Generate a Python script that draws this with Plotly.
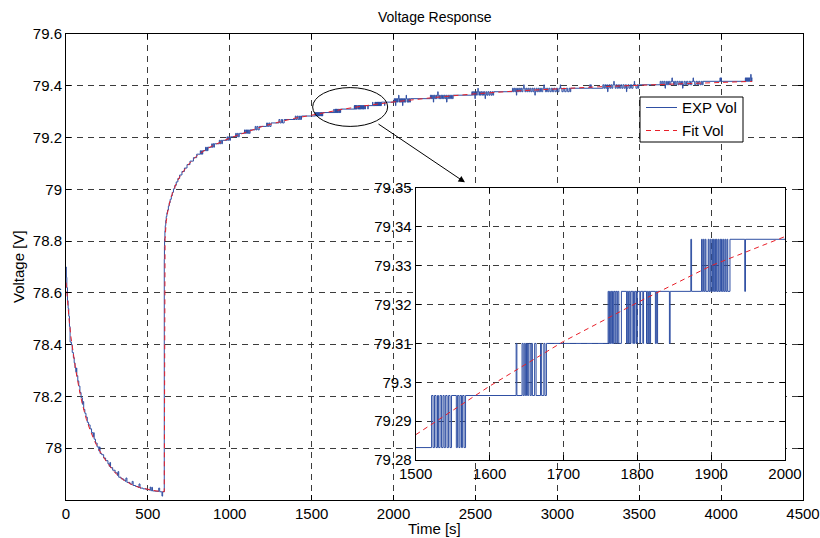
import plotly.graph_objects as go

# ---------------- data ----------------
# quantised measurement levels used in the inset / late part
A, B, C, D, E = 79.2832, 79.2966, 79.3100, 79.3234, 79.3368
F, G, H, I, J, K, L, M = 79.3502, 79.3636, 79.3770, 79.3904, 79.4038, 79.4172, 79.4306, 79.4440

# discharge part (0 - 600 s)
decay_t = [0, 2, 5, 9, 13, 17, 21, 25, 33, 38, 45, 50, 55, 60, 63, 66, 72, 78, 85, 92,
           100, 104, 108, 115, 122, 130, 138, 147, 156, 165, 169, 172, 180, 190, 200,
           204, 208, 218, 230, 242, 256, 264, 268, 272, 285, 300, 314, 318, 322, 336,
           350, 362, 366, 372, 390, 400, 404, 410, 425, 440, 446, 452, 470, 490, 510,
           514, 518, 524, 528, 545, 562, 566, 572, 583, 586, 590]
decay_v = [78.70, 78.66, 78.62, 78.57, 78.54, 78.51, 78.47, 78.41, 78.40, 78.37, 78.35,
           78.33, 78.31, 78.295, 78.31, 78.28, 78.26, 78.24, 78.215, 78.195,
           78.17, 78.18, 78.15, 78.135, 78.12, 78.10, 78.09, 78.075, 78.06, 78.045,
           78.06, 78.035, 78.02, 78.005, 77.99, 78.005, 77.98, 77.975, 77.962, 77.952,
           77.94, 77.93, 77.945, 77.925, 77.915, 77.905, 77.895, 77.91, 77.888, 77.882,
           77.877, 77.872, 77.885, 77.868, 77.862, 77.86, 77.872, 77.856, 77.852, 77.849,
           77.862, 77.846, 77.843, 77.84, 77.838, 77.85, 77.836, 77.849, 77.835, 77.834,
           77.833, 77.846, 77.832, 77.832, 77.815, 77.832]

# recovery part (600 - 1500 s)
rise_t = [600, 601, 602, 604, 606, 609, 612, 616, 620, 625, 630, 636, 643, 649, 656, 664,
          673, 683, 694, 708, 723, 739, 757, 778, 798,
          820, 823, 828, 832, 835, 852, 855, 859, 864, 867,
          890, 893, 898, 903, 906, 936, 940, 945, 951, 955,
          983, 987, 993, 999, 1004, 1036, 1040, 1046, 1052, 1058,
          1090, 1095, 1102, 1108, 1115, 1119, 1124,
          1155, 1160, 1166, 1172, 1180, 1225, 1230, 1238, 1244, 1252,
          1300, 1306, 1315, 1322, 1332, 1400, 1405, 1412, 1418, 1426, 1431, 1438]
rise_v = [78.73, 78.78, 78.81, 78.84, 78.86, 78.88, 78.895, 78.91, 78.92, 78.935, 78.948,
          78.9616, 78.975, 78.9884, 79.0018, 79.0152, 79.0286, 79.0420, 79.0554, 79.0688,
          79.0822, 79.0956, 79.1090, 79.1224, 79.1358,
          79.1492, 79.1358, 79.1492, 79.1358, 79.1492, 79.1626, 79.1492, 79.1626, 79.1492, 79.1626,
          79.1760, 79.1626, 79.1760, 79.1626, 79.1760, 79.1894, 79.1760, 79.1894, 79.1760, 79.1894,
          79.2028, 79.1894, 79.2028, 79.1894, 79.2028, 79.2162, 79.2028, 79.2162, 79.2028, 79.2162,
          79.2296, 79.2162, 79.2296, 79.2162, 79.2296, 79.2162, 79.2296,
          79.2430, 79.2296, 79.2430, 79.2296, 79.2430, 79.2564, 79.2430, 79.2564, 79.2430, 79.2564,
          79.2698, 79.2564, 79.2698, 79.2564, 79.2698, 79.2832, 79.2698, 79.2832, 79.2698,
          79.2832, 79.2698, 79.2832]

# zoomed part (1500 - 2000 s)
zoom_t = [1500,
          1521.5, 1523.5, 1525.5, 1527.5, 1529.5, 1531, 1533, 1535, 1537, 1538.5, 1540.5,
          1542.5, 1544.5, 1546.5, 1548.5, 1555, 1556.5, 1558.5, 1560, 1562, 1563.5, 1565.5, 1567.5,
          1636, 1637, 1644, 1645.5, 1647, 1648.5, 1650, 1651.5, 1653, 1655, 1656.5, 1658,
          1661, 1663, 1669, 1670.5, 1673.5, 1675, 1677,
          1760.5, 1761.5, 1762.5, 1763.5, 1764.5, 1765.5, 1766.5, 1767.5, 1768.5, 1770, 1771,
          1772.5, 1773.5, 1775, 1778.5,
          1785.5, 1786.5, 1788, 1789, 1790.5, 1791.5, 1794, 1795, 1796, 1797, 1799, 1800,
          1803.5, 1804.5, 1807.5, 1808.5, 1812.5, 1813.5, 1815, 1816, 1817, 1818,
          1824.5, 1825.5, 1826.5, 1827.5, 1843.5, 1844.5,
          1872.5, 1873.5, 1887, 1888, 1889.5, 1890.5, 1892, 1893, 1896, 1897, 1898.5, 1899.5,
          1901, 1902, 1903, 1904, 1905, 1906, 1907, 1908, 1909.5, 1910.5, 1912, 1913, 1914,
          1915, 1916.5, 1917.5, 1919, 1920, 1921.5, 1922.5, 1925.5, 1945.5, 1946.5]
zoom_v = [A,
          B, A, B, A, B, A, B, A, B, A, B, A, B, A, B, A, B, A, B, A, B, A, B,
          C, B, C, B, C, B, C, B, C, B, C, B, C, B, C, B, C, B, C,
          D, C, D, C, D, C, D, C, D, C, D, C, D, C, D,
          C, D, C, D, C, D, C, D, C, D, C, D, C, D, C, D, C, D, C, D, C, D,
          C, D, C, D, C, D,
          E, D, E, D, E, D, E, D, E, D, E, D, E, D, E, D, E, D, E, D, E, D, E, D, E,
          D, E, D, E, D, E, D, E, D, E]

# late part (2000 - 4190 s)
late_t = [2000,
          2004, 2007, 2009, 2012, 2014, 2017, 2020, 2022, 2025, 2028, 2031, 2033, 2036, 2039,
          2042, 2046, 2049, 2052, 2055, 2057, 2060, 2063, 2067, 2070, 2074, 2077, 2079, 2083,
          2087, 2090, 2094, 2098, 2103,
          2225, 2229, 2232, 2236, 2240, 2243, 2245, 2249, 2253, 2258, 2262, 2266, 2270, 2272,
          2276, 2281, 2285, 2290, 2294, 2299, 2304, 2309, 2314, 2319, 2324, 2326, 2331, 2336,
          2342, 2348, 2354, 2359, 2364,
          2478, 2482, 2486, 2490, 2494, 2497, 2499, 2503, 2507, 2511, 2515, 2517, 2521, 2525,
          2530, 2534, 2539, 2544, 2549, 2554, 2559, 2561, 2566, 2571, 2577, 2583, 2589, 2595,
          2601, 2606, 2611,
          2726, 2731, 2736, 2741, 2746, 2750, 2752, 2757, 2762, 2768, 2774, 2779, 2784, 2790,
          2795, 2797, 2802, 2808, 2814, 2820, 2826, 2832, 2838, 2845, 2851, 2857, 2863, 2865,
          2871, 2877, 2884, 2890, 2897, 2904, 2911, 2918, 2920, 2927, 2934, 2941, 2948, 2955,
          2963, 2970, 2978, 2986, 2994, 3002, 3010, 3018, 3020, 3028, 3036, 3045, 3054, 3063,
          3072, 3078, 3082,
          3198, 3201, 3204, 3207,
          3278, 3284, 3290, 3296, 3302, 3307, 3309, 3315, 3321, 3327, 3333, 3339, 3345, 3347,
          3353, 3359, 3366, 3373, 3380, 3387, 3394, 3401, 3408, 3415, 3422, 3424, 3431, 3438,
          3446, 3454, 3462, 3470, 3472, 3480, 3488, 3493, 3497,
          3628, 3634, 3640, 3646, 3652, 3658, 3660, 3666, 3672, 3679, 3686, 3693, 3700, 3702,
          3709, 3716, 3723, 3730, 3737, 3744, 3751, 3758, 3765, 3767, 3774, 3781, 3789, 3797,
          3805, 3813, 3821, 3829, 3831, 3839, 3847, 3855, 3863, 3871, 3879, 3885, 3890,
          3993, 3996, 3999, 4002,
          4148, 4151, 4154, 4157, 4160, 4163, 4166, 4169, 4172, 4175, 4178, 4181, 4183, 4186,
          4188, 4190]
late_v = [E,
          F, E, F, D, E, F, E, F, E, F, G, F, E, F,
          E, F, E, F, D, E, F, E, F, E, F, G, F, E,
          F, E, F, E, F,
          G, F, G, F, G, E, F, G, F, G, F, G, H, G,
          F, G, F, G, F, G, F, G, F, G, E, F, G, F,
          G, F, G, F, G,
          H, G, H, G, H, F, G, H, G, H, I, H, G, H,
          G, H, G, H, G, H, F, G, H, G, H, G, H, G,
          H, G, H,
          I, H, I, H, I, G, H, I, H, I, H, I, H, I,
          J, I, H, I, H, I, H, I, H, I, H, I, G, H,
          I, H, I, H, I, H, I, J, I, H, I, H, I, H,
          I, H, I, H, I, H, I, J, I, H, I, H, I, H,
          I, H, I,
          J, I, J, I,
          J, I, J, I, J, H, I, J, I, J, I, J, K, J,
          I, J, I, J, I, J, I, J, I, J, H, I, J, I,
          J, I, J, K, J, I, J, I, J,
          K, J, K, J, K, I, J, K, J, K, J, K, L, K,
          J, K, J, K, J, K, J, K, I, J, K, J, K, J,
          K, J, K, L, K, J, K, J, K, J, K, J, K,
          L, K, L, K,
          L, K, L, K, L, K, L, K, L, K, L, M, L, K,
          L, L]

# fitted curve
fit_t = [0, 10, 20, 30, 45, 60, 80, 100, 125, 150, 180, 210, 250, 300, 350, 400, 450, 500,
         550, 600, 601, 605, 612, 620, 635, 650, 675, 700, 750, 800, 850, 900, 1000, 1100,
         1200, 1300, 1400, 1500, 1600, 1700, 1800, 1900, 2000, 2250, 2500, 2750, 3000, 3250,
         3500, 3750, 4000, 4190]
fit_v = [78.64, 78.55, 78.49, 78.43, 78.36, 78.30, 78.23, 78.17, 78.11, 78.065, 78.02, 77.985,
         77.945, 77.905, 77.878, 77.86, 77.848, 77.84, 77.835, 77.832, 78.75, 78.81, 78.875,
         78.91, 78.955, 78.985, 79.025, 79.055, 79.098, 79.13, 79.152, 79.17, 79.198, 79.222,
         79.243, 79.26, 79.275, 79.2865, 79.299, 79.3105, 79.3205, 79.330, 79.3375, 79.355,
         79.369, 79.380, 79.389, 79.396, 79.402, 79.408, 79.413, 79.417]

series_names = ["EXP Vol", "Fit Vol"]
main_x_ticks = [0, 500, 1000, 1500, 2000, 2500, 3000, 3500, 4000, 4500]
main_y_ticks = [78.0, 78.2, 78.4, 78.6, 78.8, 79.0, 79.2, 79.4, 79.6]
main_y_text = ["78", "78.2", "78.4", "78.6", "78.8", "79", "79.2", "79.4", "79.6"]
inset_x_ticks = [1500, 1600, 1700, 1800, 1900, 2000]
inset_y_ticks = [79.28, 79.29, 79.30, 79.31, 79.32, 79.33, 79.34, 79.35]
inset_y_text = ["79.28", "79.29", "79.3", "79.31", "79.32", "79.33", "79.34", "79.35"]

# ---------------- figure ----------------
BLUE = "#2f4fa3"
RED = "#e8202a"
GRID = "rgb(60,60,60)"
FONT = "Liberation Sans, Arial, sans-serif"
W, H_ = 820, 538
ML, MR, MT, MB = 66, 17, 34, 38
PW, PH = W - ML - MR, H_ - MT - MB


def px(xp):
    return (xp - ML) / PW


def py(yp):
    return (H_ - MB - yp) / PH


exp_t = decay_t + rise_t + zoom_t + late_t
exp_v = decay_v + rise_v + zoom_v + late_v

in_t = list(zoom_t) + [2000]
in_v = list(zoom_v) + [zoom_v[-1]]
fin_t = [t for t in fit_t if 1500 <= t <= 2000]
fin_v = [v for t, v in zip(fit_t, fit_v) if 1500 <= t <= 2000]

fig = go.Figure()
fig.add_trace(go.Scatter(x=exp_t, y=exp_v, mode="lines", name=series_names[0], showlegend=False,
                         line=dict(color=BLUE, width=1, shape="hv"), xaxis="x", yaxis="y"))
fig.add_trace(go.Scatter(x=fit_t, y=fit_v, mode="lines", name=series_names[1], showlegend=False,
                         line=dict(color=RED, width=1, dash="5px,4px"), xaxis="x", yaxis="y"))
fig.add_trace(go.Scatter(x=in_t, y=in_v, mode="lines", showlegend=False,
                         line=dict(color=BLUE, width=1, shape="hv"), xaxis="x2", yaxis="y2"))
fig.add_trace(go.Scatter(x=fin_t, y=fin_v, mode="lines", showlegend=False,
                         line=dict(color=RED, width=1, dash="5px,4px"), xaxis="x2", yaxis="y2"))

axis_common = dict(showline=True, linecolor="black", linewidth=1, mirror="allticks",
                   ticks="inside", ticklen=5, tickcolor="black", showgrid=True,
                   gridcolor=GRID, griddash="6px,5px", gridwidth=1, zeroline=False,
                   automargin=False,
                   tickfont=dict(family=FONT, size=15, color="black"))

# legend box drawn as shapes + texts (MATLAB style)
legend_shapes = [
    dict(type="rect", xref="paper", yref="paper", x0=px(640), x1=px(743), y0=py(142), y1=py(97),
         line=dict(color="black", width=1), fillcolor="white", layer="above"),
    dict(type="line", xref="paper", yref="paper", x0=px(646), x1=px(677), y0=py(107.5), y1=py(107.5),
         line=dict(color=BLUE, width=1), layer="above"),
    dict(type="line", xref="paper", yref="paper", x0=px(646), x1=px(677), y0=py(130.5), y1=py(130.5),
         line=dict(color=RED, width=1, dash="5px,4px"), layer="above"),
]
legend_texts = [
    dict(text=series_names[0], x=px(680), y=py(107.5), xref="paper", yref="paper", xanchor="left",
         yanchor="middle", showarrow=False, font=dict(size=15, family=FONT)),
    dict(text=series_names[1], x=px(680), y=py(130.5), xref="paper", yref="paper", xanchor="left",
         yanchor="middle", showarrow=False, font=dict(size=15, family=FONT)),
]

fig.update_layout(
    width=W, height=H_,
    margin=dict(l=ML, r=MR, t=MT, b=MB, autoexpand=False),
    paper_bgcolor="white", plot_bgcolor="white",
    font=dict(family=FONT, color="black"),
    xaxis=dict(domain=[0, 1], range=[0, 4500], tickvals=main_x_ticks, anchor="y", **axis_common),
    yaxis=dict(domain=[0, 1], range=[77.8, 79.6], tickvals=main_y_ticks, ticktext=main_y_text,
               anchor="x", **axis_common),
    xaxis2=dict(domain=[px(415.7), px(785)], range=[1500, 2000], tickvals=inset_x_ticks,
                anchor="y2", **axis_common),
    yaxis2=dict(domain=[py(460), py(188)], range=[79.28, 79.35], tickvals=inset_y_ticks,
                ticktext=inset_y_text, anchor="x2", **axis_common),
    showlegend=False,
    shapes=[dict(type="circle", xref="x", yref="y", x0=1506, x1=1964, y0=79.243, y1=79.393,
                 line=dict(color="black", width=1))] + legend_shapes,
    annotations=[
        dict(x=2436, y=79.027, ax=1899, ay=79.256, xref="x", yref="y", axref="x", ayref="y",
             showarrow=True, arrowhead=2, arrowsize=1.3, arrowwidth=1, arrowcolor="black", text=""),
        dict(text="Voltage Response", x=0.5, y=py(17), xref="paper", yref="paper",
             xanchor="center", yanchor="middle", showarrow=False, font=dict(size=14, family=FONT)),
        dict(text="Time [s]", x=0.5, y=py(528), xref="paper", yref="paper",
             xanchor="center", yanchor="middle", showarrow=False, font=dict(size=15, family=FONT)),
        dict(text="Voltage [V]", x=px(18), y=0.5, xref="paper", yref="paper",
             xanchor="center", yanchor="middle", textangle=-90, showarrow=False,
             font=dict(size=15, family=FONT)),
    ] + legend_texts,
)

fig.write_html("out.html", config={"displayModeBar": False},
               post_script="document.body.style.margin='0';document.body.style.overflow='hidden';")
